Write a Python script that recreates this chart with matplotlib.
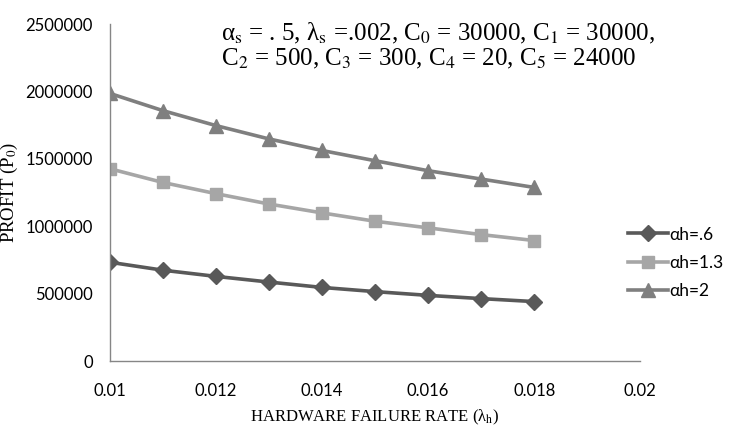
import matplotlib
matplotlib.use("Agg")
import matplotlib.pyplot as plt

# Données
failure_rate = [0.010, 0.011, 0.012, 0.013, 0.014, 0.015, 0.016, 0.017, 0.018]
profit_a06 = [734000, 675000, 629000, 587000, 547000, 516000, 488000, 464000, 442000]
profit_a13 = [1428000, 1326000, 1243000, 1166000, 1100000, 1038000, 989000, 939000, 895000]
profit_a2 = [1987000, 1859000, 1748000, 1649000, 1563000, 1487000, 1413000, 1351000, 1289000]
series_labels = ["αh=.6", "αh=1.3", "αh=2"]
x_ticks = [0.01, 0.012, 0.014, 0.016, 0.018, 0.02]
y_ticks = [0, 500000, 1000000, 1500000, 2000000, 2500000]

plt.rcParams["mathtext.fontset"] = "stix"
plt.rcParams["font.family"] = ["Liberation Serif"]
tick_font = "Lato"
serif_font = "Liberation Serif"

fig = plt.figure(figsize=(7.31, 4.32), dpi=100)
ax = fig.add_axes([0.150, 0.164, 0.726, 0.780])

ax.plot(failure_rate, profit_a06, color="#595959", lw=2.6, marker="D", ms=8, label=series_labels[0])
ax.plot(failure_rate, profit_a13, color="#a6a6a6", lw=2.6, marker="s", ms=9, label=series_labels[1])
ax.plot(failure_rate, profit_a2, color="#7f7f7f", lw=2.6, marker="^", ms=10, label=series_labels[2])

ax.set_xlim(0.01, 0.02)
ax.set_ylim(0, 2500000)
ax.set_xticks(x_ticks)
ax.set_xticklabels([str(t) for t in x_ticks], fontfamily=tick_font, fontsize=12)
ax.set_yticks(y_ticks)
ax.set_yticklabels([str(t) for t in y_ticks], fontfamily=tick_font, fontsize=12)
ax.tick_params(axis="y", length=0, pad=12)
ax.tick_params(axis="x", length=0, pad=16)

for side in ["top", "right"]:
    ax.spines[side].set_visible(False)
for side in ["left", "bottom"]:
    ax.spines[side].set_color("#868686")
    ax.spines[side].set_linewidth(1.0)

ax.set_xlabel("HARDWARE FAILURE RATE (λ$_\\mathrm{h}$)", fontfamily=serif_font, fontsize=12, labelpad=6)
# étiquette de l'axe y collée au bord gauche
fig.text(0.0125, 0.555, "PROFIT (P$_\\mathrm{0}$)", rotation=90, fontfamily=serif_font,
         fontsize=13.5, ha="center", va="center")

note = ("α$_\\mathrm{s}$ = . 5, λ$_\\mathrm{s}$ =.002, C$_\\mathrm{0}$ = 30000, C$_\\mathrm{1}$ = 30000,\n"
        "C$_\\mathrm{2}$ = 500, C$_\\mathrm{3}$ = 300, C$_\\mathrm{4}$ = 20, C$_\\mathrm{5}$ = 24000")
fig.text(0.303, 0.952, note, fontfamily=serif_font, fontsize=18, ha="left", va="top", linespacing=1.05)

leg = fig.legend(loc="center left", bbox_to_anchor=(0.838, 0.392), frameon=False,
                 prop={"family": tick_font, "size": 12.5}, handlelength=2.3, handletextpad=0.05,
                 labelspacing=0.7)

fig.savefig("out.png", dpi=100)
